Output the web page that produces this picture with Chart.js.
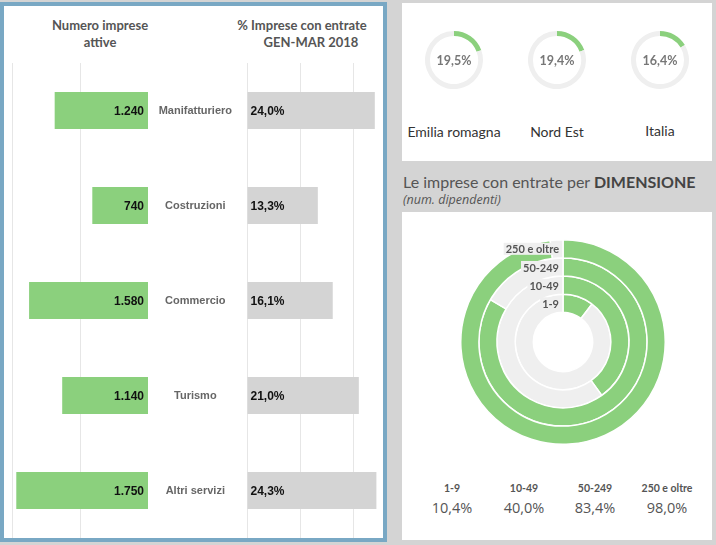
<!DOCTYPE html>
<html>
<head>
<meta charset="utf-8">
<script src="https://cdn.jsdelivr.net/npm/chart.js@4.4.0/dist/chart.umd.min.js"></script>
<style>
  body { margin:0; width:716px; height:545px; background:#d4d4d4; position:relative; overflow:hidden; font-family:Lato, "Open Sans", sans-serif; }
  .box { position:absolute; background:#fff; }
  #left { left:0; top:2px; width:387px; height:540px; border:4px solid #79a8c4; box-sizing:border-box; }
  #topRight { left:402px; top:3px; width:310px; height:158px; }
  #bottomRight { left:402px; top:212px; width:310px; height:328px; }
  canvas { position:absolute; }
  .txt { position:absolute; white-space:nowrap; }
  .head { font-weight:700; font-size:13px; color:#555; line-height:17px; transform:translateX(-50%); }
  .region { font-size:14px; color:#333; transform:translate(-50%, -50%); }
  .dimLab { font-size:10.5px; font-weight:700; color:#555; transform:translate(-50%, -50%); }
  .dimVal { font-family:"Open Sans", sans-serif; font-size:14.5px; color:#555; transform:translate(-50%, -50%); }
</style>
</head>
<body>
<div class="box" id="left"></div>
<div class="box" id="topRight"></div>
<div class="box" id="bottomRight"></div>

<div class="txt head" style="left:100px; top:17px; text-align:center;">Numero imprese<br>attive</div>
<div class="txt head" style="left:302px; top:17px;">% Imprese con entrate</div>
<div class="txt head" style="left:311px; top:34px;">GEN-MAR 2018</div>

<div class="txt" style="left:403px; top:172px; font-size:16px; color:#555;">Le imprese con entrate per <b style="color:#444">DIMENSIONE</b></div>
<div class="txt" style="left:403px; top:191px; font-family:'Open Sans', sans-serif; font-size:12.5px; font-style:italic; color:#555;">(num. dipendenti)</div>

<canvas id="numChart" width="143" height="475" style="left:5px; top:63px; width:143px; height:475px;"></canvas>
<canvas id="pctChart" width="230" height="475" style="left:148px; top:63px; width:230px; height:475px;"></canvas>
<canvas id="dimChart" width="206" height="206" style="left:460px; top:239px; width:206px; height:206px;"></canvas>

<script>
const sectors = ['Manifatturiero', 'Costruzioni', 'Commercio', 'Turismo', 'Altri servizi'];
const impreseAttive = [1240, 740, 1580, 1140, 1750];
const quotaEntrate = [24.0, 13.3, 16.1, 21.0, 24.3];
const numGrid = [900, 1800];
const pctGrid = [0, 10, 20];

const regions = ['Emilia romagna', 'Nord Est', 'Italia'];
const regionQuota = [19.5, 19.4, 16.4];

const dimensions = ['1-9', '10-49', '50-249', '250 e oltre'];
const dimensionQuota = [10.4, 40.0, 83.4, 98.0];

const GREEN = '#8bd07d';
const RING_GRAY = '#efefef';

function fmtNum(v) {
    return String(v).replace(/\B(?=(\d{3})+(?!\d))/g, '.');
}
function fmtPct(v) {
    return v.toFixed(1).replace('.', ',') + '%';
}

// etichette dentro le barre
function makeBarLabels(align, offset, format) {
    return {
        id: 'barLabels',
        afterDatasetsDraw(chart) {
            const ctx = chart.ctx;
            const meta = chart.getDatasetMeta(0);
            ctx.save();
            ctx.font = 'bold 12px "Liberation Sans", Arial, sans-serif';
            ctx.fillStyle = '#111';
            ctx.textBaseline = 'middle';
            ctx.textAlign = align;
            meta.data.forEach((bar, i) => {
                ctx.fillText(format(chart.data.datasets[0].data[i]), bar.base + offset, bar.y + 1);
            });
            ctx.restore();
        }
    };
}

const gridColor = '#e6e6e6';

new Chart(document.getElementById('numChart'), {
    type: 'bar',
    data: {
        labels: sectors,
        datasets: [{ data: impreseAttive, backgroundColor: GREEN, barPercentage: 0.39, categoryPercentage: 1 }]
    },
    options: {
        indexAxis: 'y',
        responsive: false,
        animation: false,
        plugins: { legend: { display: false }, tooltip: { enabled: false } },
        scales: {
            x: {
                reverse: true, min: 0, max: 1900,
                ticks: { display: false },
                border: { display: false },
                grid: { color: gridColor, drawTicks: false },
                afterBuildTicks: s => { s.ticks = numGrid.map(v => ({ value: v })); }
            },
            y: { display: false }
        }
    },
    plugins: [makeBarLabels('right', -4, fmtNum)]
});

new Chart(document.getElementById('pctChart'), {
    type: 'bar',
    data: {
        labels: sectors,
        datasets: [{ data: quotaEntrate, backgroundColor: '#d4d4d4', barPercentage: 0.39, categoryPercentage: 1 }]
    },
    options: {
        indexAxis: 'y',
        responsive: false,
        animation: false,
        plugins: { legend: { display: false }, tooltip: { enabled: false } },
        scales: {
            x: {
                min: 0, max: 24.6,
                ticks: { display: false },
                border: { display: false },
                grid: { color: gridColor, drawTicks: false },
                afterBuildTicks: s => { s.ticks = pctGrid.map(v => ({ value: v })); }
            },
            y: {
                border: { display: false },
                grid: { display: false, drawTicks: false },
                ticks: {
                    crossAlign: 'center',
                    padding: 15,
                    color: '#666',
                    font: { family: '"Liberation Sans", Arial, sans-serif', size: 11, weight: 'bold' }
                },
                afterFit: s => {
                    s.width = 99;
                    s.paddingTop = 0;
                    s.paddingBottom = 0;
                }
            }
        }
    },
    plugins: [makeBarLabels('left', 3, fmtPct)]
});

// piccole ciambelle per territorio
const regionX = [454, 557, 660];
regions.forEach((name, i) => {
    const c = document.createElement('canvas');
    c.width = 58; c.height = 58;
    c.style.cssText = `left:${regionX[i] - 29}px; top:31px; width:58px; height:58px;`;
    document.body.appendChild(c);

    const lab = document.createElement('div');
    lab.className = 'txt region';
    lab.style.left = regionX[i] + 'px';
    lab.style.top = (i === 2 ? 130 : 131) + 'px';
    lab.textContent = name;
    document.body.appendChild(lab);

    new Chart(c, {
        type: 'doughnut',
        data: {
            labels: ['con entrate', 'altre'],
            datasets: [{ data: [regionQuota[i], 100 - regionQuota[i]], backgroundColor: [GREEN, RING_GRAY], borderWidth: 0 }]
        },
        options: {
            responsive: false,
            animation: false,
            cutout: '83%',
            plugins: { legend: { display: false }, tooltip: { enabled: false } }
        },
        plugins: [{
            id: 'centerText',
            afterDraw(chart) {
                const arc = chart.getDatasetMeta(0).data[0];
                const ctx = chart.ctx;
                ctx.save();
                ctx.font = 'bold 12.5px Lato, sans-serif';
                ctx.fillStyle = '#777';
                ctx.textAlign = 'center';
                ctx.textBaseline = 'middle';
                ctx.fillText(fmtPct(regionQuota[i]), arc.x, arc.y + 1);
                ctx.restore();
            }
        }]
    });
});

// ciambella concentrica per dimensione (esterno = 250 e oltre)
const ringOrder = dimensions.map((d, i) => i).reverse();
new Chart(document.getElementById('dimChart'), {
    type: 'doughnut',
    data: {
        labels: ['con entrate', 'altre'],
        datasets: ringOrder.map(i => ({
            label: dimensions[i],
            data: [dimensionQuota[i], 100 - dimensionQuota[i]],
            backgroundColor: [GREEN, RING_GRAY],
            borderColor: '#fff',
            borderWidth: 1.5
        }))
    },
    options: {
        responsive: false,
        animation: false,
        cutout: '29%',
        plugins: { legend: { display: false }, tooltip: { enabled: false } }
    },
    plugins: [{
        id: 'ringLabels',
        afterDatasetsDraw(chart) {
            const ctx = chart.ctx;
            ctx.save();
            ctx.font = 'bold 11px Lato, sans-serif';
            ctx.textAlign = 'right';
            ctx.textBaseline = 'middle';
            chart.data.datasets.forEach((ds, k) => {
                const arc = chart.getDatasetMeta(k).data[0];
                const r = (arc.innerRadius + arc.outerRadius) / 2;
                const x = arc.x - 4;
                const y = arc.y - r;
                const w = ctx.measureText(ds.label).width;
                ctx.fillStyle = RING_GRAY;
                ctx.fillRect(x - w - 2, y - 6, w + 3, 12);
                ctx.fillStyle = '#555';
                ctx.fillText(ds.label, x, y + 1);
            });
            ctx.restore();
        }
    }]
});

const dimX = [452, 524, 595, 667];
dimensions.forEach((d, i) => {
    const a = document.createElement('div');
    a.className = 'txt dimLab';
    a.style.left = dimX[i] + 'px';
    a.style.top = '488px';
    a.textContent = d;
    document.body.appendChild(a);

    const b = document.createElement('div');
    b.className = 'txt dimVal';
    b.style.left = dimX[i] + 'px';
    b.style.top = '507px';
    b.textContent = fmtPct(dimensionQuota[i]);
    document.body.appendChild(b);
});
</script>
</body>
</html>
